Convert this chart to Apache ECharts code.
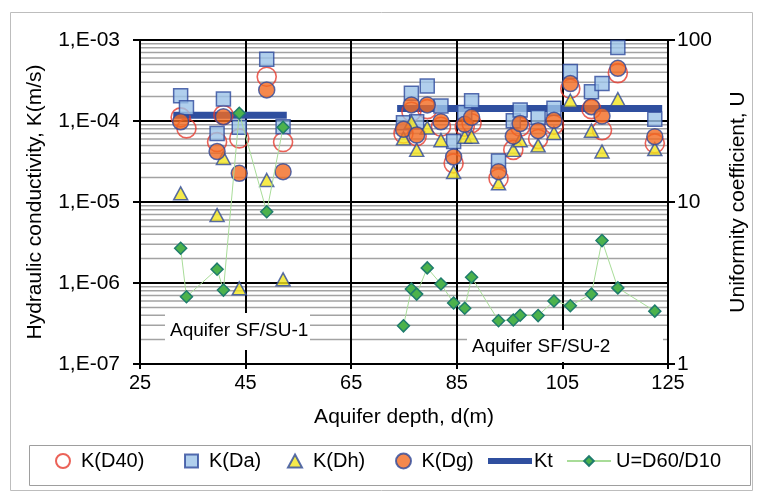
<!DOCTYPE html>
<html>
<head>
<meta charset="utf-8">
<script src="https://cdn.jsdelivr.net/npm/echarts@6/dist/echarts.min.js"></script>
<style>
  html, body { margin: 0; padding: 0; background: #fff; }
  #chart { width: 758px; height: 491px; }
</style>
</head>
<body>
<div id="chart"></div>
<script>
// depth of each sample, m (first 7 = aquifer SF/SU-1, rest = SF/SU-2)
const depth = [32.7, 33.8, 39.6, 40.8, 43.8, 49.0, 52.1,
  74.9, 76.4, 77.4, 79.4, 82.0, 84.4, 86.5, 87.8, 92.9, 95.7, 97.0, 100.4, 103.4, 106.5, 110.5, 112.5, 115.5, 122.5];
const splitAt = 7;

const kD40 = [1.11e-4, 8.1e-5, 5.5e-5, 1.19e-4, 6.1e-5, 3.52e-4, 5.5e-5,
  7.0e-5, 1.3e-4, 6.5e-5, 1.4e-4, 8.5e-5, 3.0e-5, 8.5e-5, 9.4e-5, 1.95e-5, 4.4e-5, 8.5e-5, 6.0e-5, 9.0e-5, 2.5e-4, 1.4e-4, 7.7e-5, 3.9e-4, 5.3e-5];
const kDa = [2.05e-4, 1.46e-4, 7.0e-5, 1.87e-4, 8.4e-5, 5.78e-4, 8.5e-5,
  9.5e-5, 2.2e-4, 9.8e-5, 2.7e-4, 1.53e-4, 5.6e-5, 1.27e-4, 1.78e-4, 3.2e-5, 1.01e-4, 1.37e-4, 1.11e-4, 1.44e-4, 4.07e-4, 2.3e-4, 2.9e-4, 8.1e-4, 1.05e-4];
const kDh = [1.28e-5, null, 6.9e-6, 3.5e-5, 8.6e-7, 1.87e-5, 1.11e-6,
  6.1e-5, 9.7e-5, 4.4e-5, 8.3e-5, 5.8e-5, 2.35e-5, 6.4e-5, 6.4e-5, 1.7e-5, 4.4e-5, 5.8e-5, 5.0e-5, 7.1e-5, 1.78e-4, 7.6e-5, 4.2e-5, 1.86e-4, 4.5e-5];
const kDg = [9.8e-5, null, 4.2e-5, 1.13e-4, 2.26e-5, 2.42e-4, 2.37e-5,
  7.9e-5, 1.58e-4, 6.7e-5, 1.58e-4, 9.8e-5, 3.6e-5, 9.1e-5, 1.11e-4, 2.37e-5, 6.5e-5, 9.3e-5, 7.6e-5, 1.02e-4, 2.9e-4, 1.5e-4, 1.15e-4, 4.47e-4, 6.4e-5];
const uCoef = [5.18, 2.6, 3.85, 2.86, 35.3, 8.7, 28.9,
  1.72, 2.9, 2.7, 3.92, 3.12, 2.38, 2.21, 3.43, 1.85, 1.87, 2.0, 1.99, 2.45, 2.29, 2.7, 5.78, 2.95, 2.12];

// Kt mean level per aquifer
const ktStart = [31.3, 73.7];
const ktEnd = [52.8, 123.9];
const ktValue = [1.18e-4, 1.43e-4];

const aquiferNames = ['Aquifer SF/SU-1', 'Aquifer SF/SU-2'];
const depthRange = [25, 125];
const kDecades = [-7, -6, -5, -4];
const minorSteps = [2, 3, 4, 5, 6, 7, 8, 9];

const FONT = '"Liberation Sans", Arial, sans-serif';
const txt = { color: '#000', fontSize: 20, fontFamily: FONT };
const axisTxt = { color: '#000', fontSize: 21, fontFamily: FONT };
const EDGE = '#2e4a9c';

const pts = (arr, from, to) => depth.slice(from, to)
  .map((d, i) => [d, arr[from + i]])
  .filter(p => p[1] != null);

const minorValues = [];
kDecades.forEach(e => minorSteps.forEach(k => minorValues.push(k * Math.pow(10, e))));

const kLabel = v => {
  const e = Math.round(Math.log10(v));
  return '1,E' + (e < 0 ? '-' : '+') + String(Math.abs(e)).padStart(2, '0');
};

// light grey minor gridlines of the K axis
const minorSeries = minorValues.map(v => ({
  type: 'line', yAxisIndex: 0, symbol: 'none', silent: true, z: 1,
  data: [[depthRange[0], v], [depthRange[1], v]],
  lineStyle: { color: '#a3a3a3', width: 1.5 },
}));

const chart = echarts.init(document.getElementById('chart'));

const legendBase = { top: 451, padding: 0, selectedMode: false };

chart.setOption({
  animation: false,
  grid: { left: 140, right: 90, top: 40, bottom: 127 },
  xAxis: {
    type: 'value', min: depthRange[0], max: depthRange[1], interval: 20, z: 2,
    name: 'Aquifer depth, d(m)', nameLocation: 'middle', nameGap: 43, nameTextStyle: axisTxt,
    axisLine: { onZero: false, lineStyle: { color: '#000', width: 2 } },
    axisTick: { show: true, length: 5, lineStyle: { color: '#000', width: 2 } },
    axisLabel: Object.assign({ margin: 9 }, txt),
    splitLine: { show: true, lineStyle: { color: '#000', width: 2 } },
  },
  yAxis: [
    {
      type: 'log', logBase: 10, min: 1e-7, max: 1e-3, position: 'left', z: 2,
      name: 'Hydraulic conductivity, K(m/s)', nameLocation: 'middle', nameGap: 94, nameTextStyle: axisTxt,
      axisLine: { onZero: false, lineStyle: { color: '#000', width: 2 } },
      axisTick: { show: true, length: 7, lineStyle: { color: '#000', width: 2 } },
      axisLabel: Object.assign({ margin: 20, formatter: kLabel }, axisTxt),
      splitLine: { show: true, lineStyle: { color: '#000', width: 2 } },
    },
    {
      type: 'log', logBase: 10, min: 1, max: 100, position: 'right', z: 2,
      name: 'Uniformity coefficient, U', nameLocation: 'middle', nameGap: 60, nameTextStyle: axisTxt,
      axisLine: { show: true, onZero: false, lineStyle: { color: '#000', width: 2 } },
      axisTick: { show: true, length: 7, lineStyle: { color: '#000', width: 2 } },
      axisLabel: Object.assign({ margin: 9 }, axisTxt),
      splitLine: { show: false },
    },
  ],
  legend: [
    Object.assign({ left: 55, itemWidth: 26, itemHeight: 14, textStyle: txt, data: [{ name: 'K(D40)', icon: 'circle' }] }, legendBase),
    Object.assign({ left: 184, itemWidth: 13, itemHeight: 13, data: [{ name: 'K(Da)', icon: 'rect' }],
      textStyle: Object.assign({ padding: [0, 0, 0, 6] }, txt) }, legendBase),
    Object.assign({ left: 287, itemWidth: 14, itemHeight: 13, data: [{ name: 'K(Dh)', icon: 'triangle' }],
      textStyle: Object.assign({ padding: [0, 0, 0, 6] }, txt) }, legendBase),
    Object.assign({ left: 395, itemWidth: 26, itemHeight: 15, textStyle: txt, data: [{ name: 'K(Dg)', icon: 'circle' }] }, legendBase),
    Object.assign({ left: 488, itemWidth: 44, itemHeight: 6, textStyle: Object.assign({ padding: [0, 0, 0, -3] }, txt),
      data: [{ name: 'Kt', icon: 'rect' }] }, legendBase),
    Object.assign({ left: 566, itemWidth: 44, itemHeight: 12, textStyle: txt, data: [{ name: 'U=D60/D10' }] }, legendBase),
  ],
  graphic: [
    { type: 'rect', left: 8, top: 10, shape: { width: 742, height: 478 }, style: { fill: 'none', stroke: '#bdbdbd', lineWidth: 1 }, z: 0, silent: true },
    { type: 'rect', left: 27, top: 443, shape: { width: 721, height: 40 }, style: { fill: 'none', stroke: '#9e9e9e', lineWidth: 1 }, z: 0, silent: true },
    { type: 'rect', left: 165, top: 313, shape: { width: 145, height: 37 }, style: { fill: '#fff' }, z: 20, silent: true },
    { type: 'text', left: 170, top: 321, style: { text: aquiferNames[0], font: '19px ' + FONT, fill: '#000' }, z: 21, silent: true },
    { type: 'rect', left: 467, top: 330, shape: { width: 196, height: 32 }, style: { fill: '#fff' }, z: 20, silent: true },
    { type: 'text', left: 472, top: 337, style: { text: aquiferNames[1], font: '19px ' + FONT, fill: '#000' }, z: 21, silent: true },
  ],
  series: minorSeries.concat([
    {
      name: 'Kt', type: 'line', yAxisIndex: 0, symbol: 'none', z: 2.5,
      data: [[ktStart[0], ktValue[0]], [ktEnd[0], ktValue[0]]],
      lineStyle: { color: '#2f4f9f', width: 7 }, itemStyle: { color: '#2f4f9f' },
    },
    {
      name: 'Kt', type: 'line', yAxisIndex: 0, symbol: 'none', z: 2.5,
      data: [[ktStart[1], ktValue[1]], [ktEnd[1], ktValue[1]]],
      lineStyle: { color: '#2f4f9f', width: 7 }, itemStyle: { color: '#2f4f9f' },
    },
    {
      name: 'K(D40)', type: 'scatter', yAxisIndex: 0, symbol: 'circle', symbolSize: 19, z: 3,
      data: pts(kD40, 0, depth.length),
      itemStyle: { color: 'rgba(255,255,255,0)', borderColor: '#e63b2e', borderWidth: 1.6 },
    },
    {
      name: 'K(Da)', type: 'scatter', yAxisIndex: 0, symbol: 'rect', symbolSize: 14, z: 3,
      data: pts(kDa, 0, depth.length),
      itemStyle: { color: '#9cc3e8', borderColor: EDGE, borderWidth: 1.5 },
    },
    {
      name: 'K(Dh)', type: 'scatter', yAxisIndex: 0, symbol: 'triangle', symbolSize: [14, 13], z: 3,
      data: pts(kDh, 0, depth.length),
      itemStyle: { color: '#f4e61e', borderColor: EDGE, borderWidth: 1.5 },
    },
    {
      name: 'K(Dg)', type: 'scatter', yAxisIndex: 0, symbol: 'circle', symbolSize: 16, z: 3,
      data: pts(kDg, 0, depth.length),
      itemStyle: { color: '#f26a21', borderColor: EDGE, borderWidth: 1.5 },
    },
    {
      name: 'U=D60/D10', type: 'line', yAxisIndex: 1, symbol: 'diamond', symbolSize: 12, showSymbol: true, z: 5,
      data: pts(uCoef, 0, splitAt),
      lineStyle: { color: '#a8dc98', width: 1 },
      itemStyle: { color: '#4cb24c', borderColor: '#1f7c6d', borderWidth: 1.5 },
    },
    {
      name: 'U=D60/D10', type: 'line', yAxisIndex: 1, symbol: 'diamond', symbolSize: 12, showSymbol: true, z: 5,
      data: pts(uCoef, splitAt, depth.length),
      lineStyle: { color: '#a8dc98', width: 1 },
      itemStyle: { color: '#4cb24c', borderColor: '#1f7c6d', borderWidth: 1.5 },
    },
  ]),
});
</script>
</body>
</html>
